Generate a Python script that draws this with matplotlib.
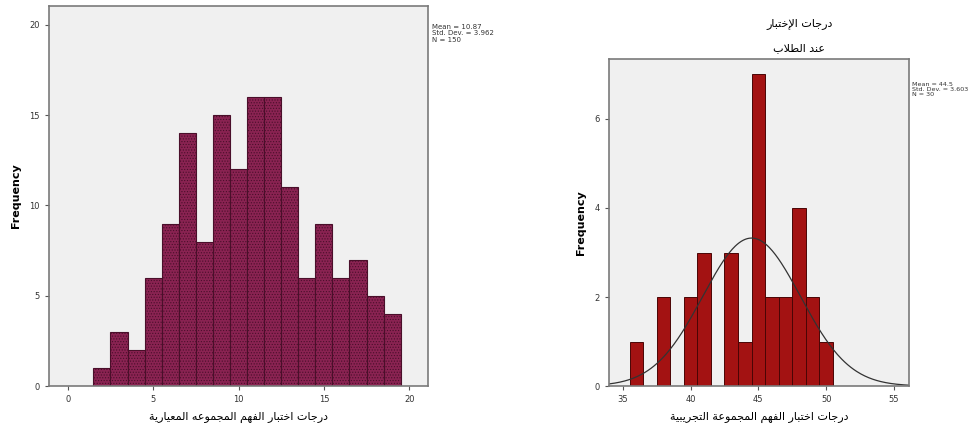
import numpy as np
import matplotlib.pyplot as plt

# left histogram (standard group), integer scores and their counts
scores_std = [2, 3, 4, 5, 6, 7, 8, 9, 10, 11, 12, 13, 14, 15, 16, 17, 18, 19]
counts_std = [1, 3, 2, 6, 9, 14, 8, 15, 12, 16, 16, 11, 6, 9, 6, 7, 5, 4]

# right histogram (experimental group)
scores_exp = [36, 38, 40, 41, 43, 44, 45, 46, 47, 48, 49, 50]
counts_exp = [1, 2, 2, 3, 3, 1, 7, 2, 2, 4, 2, 1]
mean_exp = 44.5
sd_exp = 3.6
n_exp = 30

stats_std = ["Mean = 10.87", "Std. Dev. = 3.962", "N = 150"]
stats_exp = ["Mean = 44.5", "Std. Dev. = 3.603", "N = 30"]

xlabel_std = "درجات اختبار الفهم المجموعه المعيارية"
xlabel_exp = "درجات اختبار الفهم المجموعة التجريبية"
title_exp = ["درجات الإختبار", "عند الطلاب"]

# minimal arabic shaping (matplotlib has no bidi / joining)
AR = {
    'ا': (0xFE8D, 0xFE8E, None, None), 'إ': (0xFE87, 0xFE88, None, None),
    'ب': (0xFE8F, 0xFE90, 0xFE91, 0xFE92), 'ة': (0xFE93, 0xFE94, None, None),
    'ت': (0xFE95, 0xFE96, 0xFE97, 0xFE98), 'ج': (0xFE9D, 0xFE9E, 0xFE9F, 0xFEA0),
    'خ': (0xFEA5, 0xFEA6, 0xFEA7, 0xFEA8), 'د': (0xFEA9, 0xFEAA, None, None),
    'ر': (0xFEAD, 0xFEAE, None, None), 'ط': (0xFEC1, 0xFEC2, 0xFEC3, 0xFEC4),
    'ع': (0xFEC9, 0xFECA, 0xFECB, 0xFECC), 'ف': (0xFED1, 0xFED2, 0xFED3, 0xFED4),
    'ل': (0xFEDD, 0xFEDE, 0xFEDF, 0xFEE0), 'م': (0xFEE1, 0xFEE2, 0xFEE3, 0xFEE4),
    'ن': (0xFEE5, 0xFEE6, 0xFEE7, 0xFEE8), 'ه': (0xFEE9, 0xFEEA, 0xFEEB, 0xFEEC),
    'و': (0xFEED, 0xFEEE, None, None), 'ي': (0xFEF1, 0xFEF2, 0xFEF3, 0xFEF4),
}
LAM_ALEF = {'ا': (0xFEFB, 0xFEFC), 'إ': (0xFEF9, 0xFEFA)}


def shape(s):
    out = []
    i = 0
    while i < len(s):
        c = s[i]
        prev = s[i - 1] if i > 0 else ' '
        p = prev in AR and AR[prev][2] is not None
        if c == 'ل' and i + 1 < len(s) and s[i + 1] in LAM_ALEF:
            iso, fin = LAM_ALEF[s[i + 1]]
            out.append(chr(fin if p else iso))
            i += 2
            continue
        if c not in AR:
            out.append(c)
            i += 1
            continue
        nxt = s[i + 1] if i + 1 < len(s) else ' '
        iso, fin, ini, med = AR[c]
        n = nxt in AR and ini is not None
        if p and n:
            out.append(chr(med))
        elif p:
            out.append(chr(fin))
        elif n:
            out.append(chr(ini))
        else:
            out.append(chr(iso))
        i += 1
    return ''.join(reversed(out))


plt.rcParams['font.family'] = ['DejaVu Sans']
plt.rcParams['hatch.linewidth'] = 0.5
fig = plt.figure(figsize=(9.71, 4.30), dpi=100)
fig.patch.set_facecolor('white')

ax1 = fig.add_axes([0.0505, 0.1023, 0.3903, 0.8837])
ax2 = fig.add_axes([0.627, 0.1023, 0.309, 0.7607])

for ax in (ax1, ax2):
    ax.set_facecolor('#f0f0f0')
    for sp in ax.spines.values():
        sp.set_color('#7a7a7a')
        sp.set_linewidth(1.2)
    ax.tick_params(labelsize=6, length=3, color='#555555', labelcolor='#333333')
    ax.set_ylabel('Frequency', fontsize=8, fontweight='bold', labelpad=6)

# left
ax1.bar(scores_std, counts_std, width=1.0, color='#8a2352', edgecolor='#4a0f2a',
        linewidth=0.8, hatch='......')
ax1.set_xlim(-1.1, 21.1)
ax1.set_ylim(0, 21.05)
ax1.set_xticks([0, 5, 10, 15, 20])
ax1.set_yticks([0, 5, 10, 15, 20])
ax1.set_xlabel(shape(xlabel_std), fontsize=8, labelpad=6)
fig.text(0.445, 0.945, "\n".join(stats_std), fontsize=5, va='top', ha='left',
         color='#333333', linespacing=1.1)

# right
ax2.bar(scores_exp, counts_exp, width=1.0, color='#a31212', edgecolor='#4a0505',
        linewidth=0.7)
xs = np.linspace(33.97, 56.1, 300)
ys = n_exp / (sd_exp * np.sqrt(2 * np.pi)) * np.exp(-0.5 * ((xs - mean_exp) / sd_exp) ** 2)
ax2.plot(xs, ys, color='#333333', linewidth=0.9)
ax2.set_xlim(33.97, 56.1)
ax2.set_ylim(0, 7.35)
ax2.set_xticks([35, 40, 45, 50, 55])
ax2.set_yticks([0, 2, 4, 6])
ax2.set_xlabel(shape(xlabel_exp), fontsize=8, labelpad=6)
fig.text(0.9395, 0.81, "\n".join(stats_exp), fontsize=4.6, va='top', ha='left',
         color='#333333', linespacing=1.1)
fig.text(0.823, 0.945, shape(title_exp[0]), fontsize=8, ha='center', va='center')
fig.text(0.823, 0.888, shape(title_exp[1]), fontsize=8, ha='center', va='center')

fig.savefig('out.png', dpi=100)
